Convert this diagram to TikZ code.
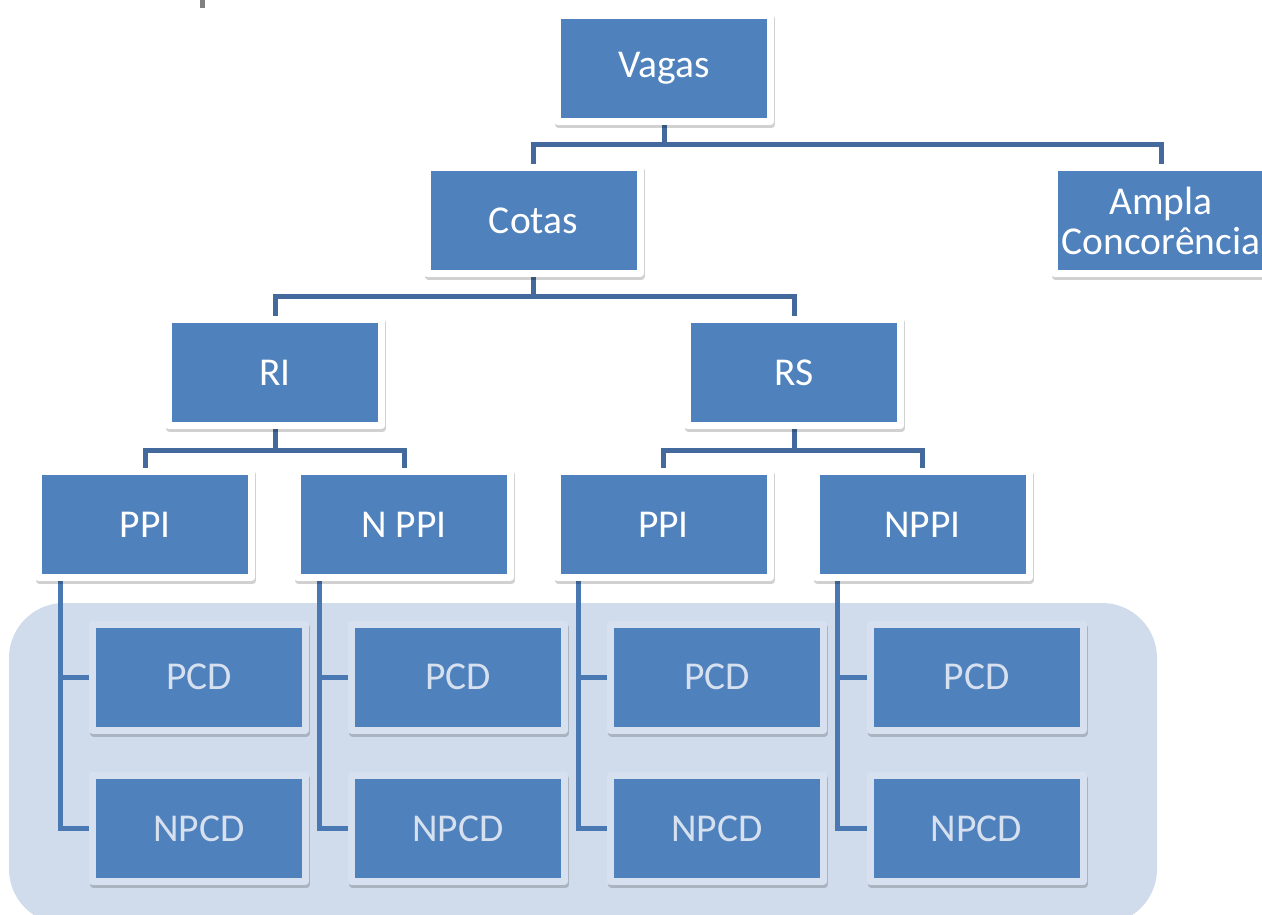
\documentclass[tikz,border=0pt]{standalone}
\usepackage{fontspec}
\setmainfont{Carlito}
\pgfdeclarelayer{bglayer}
\pgfdeclarelayer{conn}
\pgfsetlayers{bglayer,conn,main}
\definecolor{boxblue}{HTML}{4F81BD}
\definecolor{connblue}{HTML}{43699D}
\definecolor{connlight}{HTML}{4A78B3}
\definecolor{panel}{HTML}{D0DCEC}
\definecolor{frameL}{HTML}{D6E0EF}
\begin{document}
\begin{tikzpicture}[x=1pt,y=-1pt,
  boxnode/.style={fill=boxblue, draw=white, line width=7pt, line join=round,
    minimum width=213pt, minimum height=106pt, inner sep=0pt,
    text=white, font=\fontsize{39.5}{40}\selectfont, align=center,
    preaction={draw=black, fill=black, opacity=0.18, line width=7pt, line join=round,
      transform canvas={xshift=1pt, yshift=-3pt}}},
  lowbox/.style={boxnode, draw=frameL, text=frameL},
  topconn/.style={draw=connblue, line width=5pt},
  lowconn/.style={draw=connlight, line width=5pt}]
\useasboundingbox (0,0) rectangle (1262,915);
\begin{pgfonlayer}{bglayer}
  \fill[panel, rounded corners=55pt] (9,603) rectangle (1157,924);
  \fill[gray] (200,0) rectangle (205,8);
\end{pgfonlayer}

\node[boxnode] (vagas) at (664,68.5) {Vagas};
\node[boxnode] (cotas) at (533.5,220.5) {Cotas};
\node[boxnode] (ampla) at (1161,220.5) {Ampla\\Concorência};
\node[boxnode] (ri) at (275,372.5) {RI};
\node[boxnode] (rs) at (794,372.5) {RS};
\node[boxnode] (ppia) at (145,524.5) {PPI};
\node[boxnode] (nppia) at (404,524.5) {N PPI};
\node[boxnode] (ppib) at (663.5,524.5) {PPI};
\node[boxnode] (nppib) at (922.5,524.5) {NPPI};

\node[lowbox] (pcda) at (199,677) {PCD};
\node[lowbox] (npcda) at (199,828.5) {NPCD};
\node[lowbox] (pcdb) at (458,677) {PCD};
\node[lowbox] (npcdb) at (458,828.5) {NPCD};
\node[lowbox] (pcdc) at (717,677) {PCD};
\node[lowbox] (npcdc) at (717,828.5) {NPCD};
\node[lowbox] (pcdd) at (976.5,677) {PCD};
\node[lowbox] (npcdd) at (976.5,828.5) {NPCD};

\begin{pgfonlayer}{conn}
  \draw[topconn] (vagas.south) -- ++(0,20) coordinate (v1) -| (cotas.north);
  \draw[topconn] (v1) -| (ampla.north);
  \draw[topconn] (cotas.south) -- ++(0,19) coordinate (c1) -| (ri.north);
  \draw[topconn] (c1) -| (rs.north);
  \draw[topconn] (ri.south) -- ++(0,21) coordinate (r1) -| (ppia.north);
  \draw[topconn] (r1) -| (nppia.north);
  \draw[topconn] (rs.south) -- ++(0,21) coordinate (r2) -| (ppib.north);
  \draw[topconn] (r2) -| (nppib.north);

  \coordinate (la) at ([xshift=25pt]ppia.south west);
  \coordinate (lb) at ([xshift=25pt]nppia.south west);
  \coordinate (lc) at ([xshift=25pt]ppib.south west);
  \coordinate (ld) at ([xshift=25pt]nppib.south west);
  \draw[lowconn] (la) |- (npcda.west);
  \draw[lowconn] (la |- pcda.west) -- (pcda.west);
  \draw[lowconn] (lb) |- (npcdb.west);
  \draw[lowconn] (lb |- pcdb.west) -- (pcdb.west);
  \draw[lowconn] (lc) |- (npcdc.west);
  \draw[lowconn] (lc |- pcdc.west) -- (pcdc.west);
  \draw[lowconn] (ld) |- (npcdd.west);
  \draw[lowconn] (ld |- pcdd.west) -- (pcdd.west);
\end{pgfonlayer}
\end{tikzpicture}
\end{document}
